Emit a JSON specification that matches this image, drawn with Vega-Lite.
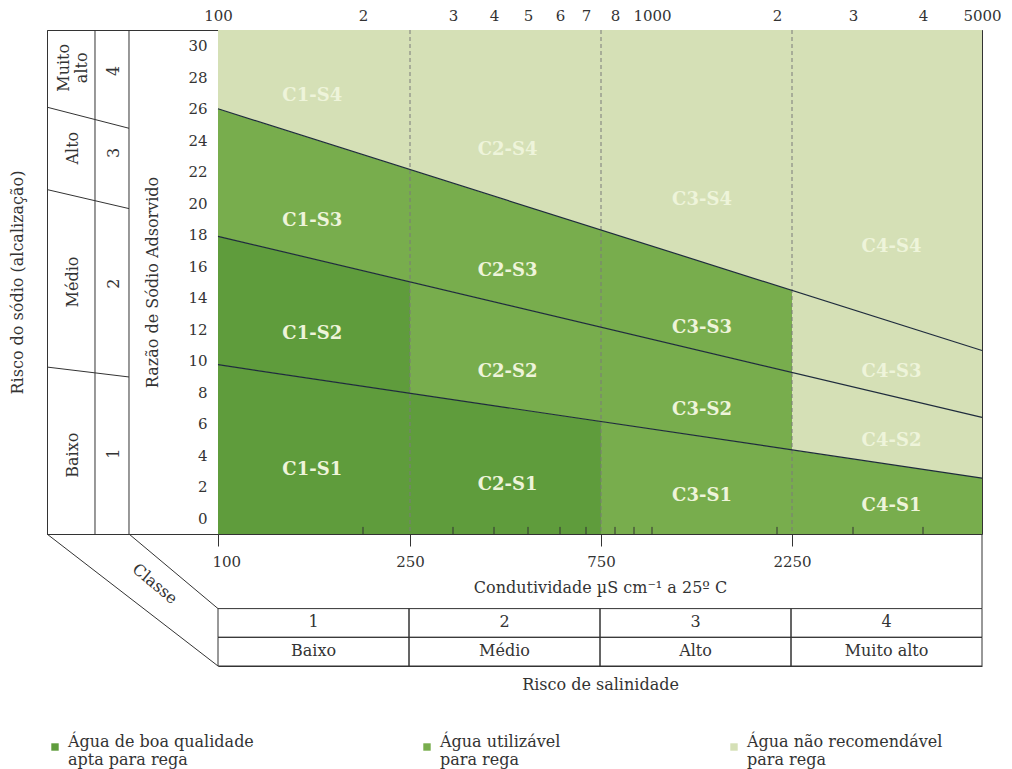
{
  "$schema": "https://vega.github.io/schema/vega-lite/v6.json",
  "background": "white",
  "padding": {"left": 8, "top": 7, "right": 5, "bottom": 5},
  "columns": 2,
  "spacing": 0,
  "bounds": "flush",
  "align": "each",
  "config": {
    "view": {"stroke": null},
    "font": "DejaVu Serif",
    "text": {"font": "DejaVu Serif"},
    "axis": {"labelFont": "DejaVu Serif", "titleFont": "DejaVu Serif", "labelFontSize": 15, "titleFontSize": 16, "titleFontWeight": "normal", "labelColor": "#333", "titleColor": "#333", "tickColor": "#333", "domainColor": "#333", "grid": false}
  },
  "datasets": {
    "regions": [
      {"region": "C1-S1", "q": "Água de boa qualidade apta para rega", "c": 100, "lo": -1, "hi": 9.75},
      {"region": "C1-S1", "q": "Água de boa qualidade apta para rega", "c": 250, "lo": -1, "hi": 7.94},
      {"region": "C1-S2", "q": "Água de boa qualidade apta para rega", "c": 100, "lo": 9.75, "hi": 17.9},
      {"region": "C1-S2", "q": "Água de boa qualidade apta para rega", "c": 250, "lo": 7.94, "hi": 15.01},
      {"region": "C1-S3", "q": "Água utilizável para rega", "c": 100, "lo": 17.9, "hi": 26},
      {"region": "C1-S3", "q": "Água utilizável para rega", "c": 250, "lo": 15.01, "hi": 22.14},
      {"region": "C1-S4", "q": "Água não recomendável para rega", "c": 100, "lo": 26, "hi": 31},
      {"region": "C1-S4", "q": "Água não recomendável para rega", "c": 250, "lo": 22.14, "hi": 31},
      {"region": "C2-S1", "q": "Água de boa qualidade apta para rega", "c": 250, "lo": -1, "hi": 7.94},
      {"region": "C2-S1", "q": "Água de boa qualidade apta para rega", "c": 750, "lo": -1, "hi": 6.14},
      {"region": "C2-S2", "q": "Água utilizável para rega", "c": 250, "lo": 7.94, "hi": 15.01},
      {"region": "C2-S2", "q": "Água utilizável para rega", "c": 750, "lo": 6.14, "hi": 12.13},
      {"region": "C2-S3", "q": "Água utilizável para rega", "c": 250, "lo": 15.01, "hi": 22.14},
      {"region": "C2-S3", "q": "Água utilizável para rega", "c": 750, "lo": 12.13, "hi": 18.31},
      {"region": "C2-S4", "q": "Água não recomendável para rega", "c": 250, "lo": 22.14, "hi": 31},
      {"region": "C2-S4", "q": "Água não recomendável para rega", "c": 750, "lo": 18.31, "hi": 31},
      {"region": "C3-S1", "q": "Água utilizável para rega", "c": 750, "lo": -1, "hi": 6.14},
      {"region": "C3-S1", "q": "Água utilizável para rega", "c": 2250, "lo": -1, "hi": 4.34},
      {"region": "C3-S2", "q": "Água utilizável para rega", "c": 750, "lo": 6.14, "hi": 12.13},
      {"region": "C3-S2", "q": "Água utilizável para rega", "c": 2250, "lo": 4.34, "hi": 9.26},
      {"region": "C3-S3", "q": "Água utilizável para rega", "c": 750, "lo": 12.13, "hi": 18.31},
      {"region": "C3-S3", "q": "Água utilizável para rega", "c": 2250, "lo": 9.26, "hi": 14.47},
      {"region": "C3-S4", "q": "Água não recomendável para rega", "c": 750, "lo": 18.31, "hi": 31},
      {"region": "C3-S4", "q": "Água não recomendável para rega", "c": 2250, "lo": 14.47, "hi": 31},
      {"region": "C4-S1", "q": "Água utilizável para rega", "c": 2250, "lo": -1, "hi": 4.34},
      {"region": "C4-S1", "q": "Água utilizável para rega", "c": 5000, "lo": -1, "hi": 2.55},
      {"region": "C4-S2", "q": "Água não recomendável para rega", "c": 2250, "lo": 4.34, "hi": 9.26},
      {"region": "C4-S2", "q": "Água não recomendável para rega", "c": 5000, "lo": 2.55, "hi": 6.4},
      {"region": "C4-S3", "q": "Água não recomendável para rega", "c": 2250, "lo": 9.26, "hi": 14.47},
      {"region": "C4-S3", "q": "Água não recomendável para rega", "c": 5000, "lo": 6.4, "hi": 10.65},
      {"region": "C4-S4", "q": "Água não recomendável para rega", "c": 2250, "lo": 14.47, "hi": 31},
      {"region": "C4-S4", "q": "Água não recomendável para rega", "c": 5000, "lo": 10.65, "hi": 31}
    ],
    "bounds": [
      {"line": "S1/S2", "c": 100, "sar": 9.75},
      {"line": "S1/S2", "c": 5000, "sar": 2.55},
      {"line": "S2/S3", "c": 100, "sar": 17.9},
      {"line": "S2/S3", "c": 5000, "sar": 6.4},
      {"line": "S3/S4", "c": 100, "sar": 26},
      {"line": "S3/S4", "c": 5000, "sar": 10.65}
    ],
    "dashes": [{"c": 250}, {"c": 750}, {"c": 2250}],
    "minor": [{"c": 200}, {"c": 300}, {"c": 400}, {"c": 500}, {"c": 600}, {"c": 700}, {"c": 800}, {"c": 900}, {"c": 1000}, {"c": 2000}, {"c": 3000}, {"c": 4000}],
    "labels": [
      {"label": "C1-S4", "c": 165, "sar": 26.8},
      {"label": "C2-S4", "c": 440, "sar": 23.4},
      {"label": "C3-S4", "c": 1400, "sar": 20.2},
      {"label": "C4-S4", "c": 3550, "sar": 17.2},
      {"label": "C1-S3", "c": 165, "sar": 18.9},
      {"label": "C2-S3", "c": 440, "sar": 15.7},
      {"label": "C3-S3", "c": 1400, "sar": 12.1},
      {"label": "C4-S3", "c": 3550, "sar": 9.3},
      {"label": "C1-S2", "c": 165, "sar": 11.7},
      {"label": "C2-S2", "c": 440, "sar": 9.3},
      {"label": "C3-S2", "c": 1400, "sar": 6.9},
      {"label": "C4-S2", "c": 3550, "sar": 4.9},
      {"label": "C1-S1", "c": 165, "sar": 3.05},
      {"label": "C2-S1", "c": 440, "sar": 2.1},
      {"label": "C3-S1", "c": 1400, "sar": 1.4},
      {"label": "C4-S1", "c": 3550, "sar": 0.8}
    ],
    "leftCols": [{"x": 0.2807}, {"x": 0.4795}],
    "leftSeps": [
      {"x0": 0, "s0": 9.6, "x1": 0.4795, "s1": 8.97},
      {"x0": 0, "s0": 20.87, "x1": 0.4795, "s1": 19.66},
      {"x0": 0, "s0": 26.1, "x1": 0.4795, "s1": 24.76}
    ],
    "leftText": [
      {"t": "Muito\nalto", "x": 0.1, "sar": 28.6},
      {"t": "4", "x": 0.39, "sar": 28.4},
      {"t": "Alto", "x": 0.15, "sar": 23.5},
      {"t": "3", "x": 0.39, "sar": 23.2},
      {"t": "Médio", "x": 0.15, "sar": 15.0},
      {"t": "2", "x": 0.39, "sar": 14.9},
      {"t": "Baixo", "x": 0.15, "sar": 4.0},
      {"t": "1", "x": 0.39, "sar": 4.1}
    ],
    "diag": [
      {"x0": 0, "y0": 4.6, "x1": 1, "y1": 0},
      {"x0": 0.4795, "y0": 4.6, "x1": 1, "y1": 2}
    ],
    "classe": [{"t": "Classe", "x": 0.63, "y": 2.86}],
    "cells": [
      {"cls": "1", "row": 1, "rowEnd": 2, "t": "1"},
      {"cls": "1", "row": 0, "rowEnd": 1, "t": "Baixo"},
      {"cls": "2", "row": 1, "rowEnd": 2, "t": "2"},
      {"cls": "2", "row": 0, "rowEnd": 1, "t": "Médio"},
      {"cls": "3", "row": 1, "rowEnd": 2, "t": "3"},
      {"cls": "3", "row": 0, "rowEnd": 1, "t": "Alto"},
      {"cls": "4", "row": 1, "rowEnd": 2, "t": "4"},
      {"cls": "4", "row": 0, "rowEnd": 1, "t": "Muito alto"}
    ],
    "edge": [{"cls": "4"}]
  },
  "concat": [
    {
      "width": 171,
      "height": 504,
      "view": {"stroke": "#333"},
      "layer": [
        {
          "data": {"name": "leftCols"},
          "mark": {"type": "rule", "color": "#333"},
          "encoding": {
            "x": {"field": "x", "type": "quantitative", "scale": {"domain": [0, 1], "nice": false, "zero": false}, "axis": null}
          }
        },
        {
          "data": {"name": "leftSeps"},
          "mark": {"type": "rule", "color": "#333"},
          "encoding": {
            "x": {"field": "x0", "type": "quantitative", "axis": null},
            "x2": {"field": "x1"},
            "y": {"field": "s0", "type": "quantitative", "scale": {"domain": [-1, 31], "nice": false, "zero": false},
              "axis": {"orient": "left", "labels": false, "ticks": false, "domain": true, "title": "Risco do sódio (alcalização)", "titlePadding": 22}},
            "y2": {"field": "s1"}
          }
        },
        {
          "data": {"name": "leftText"},
          "mark": {"type": "text", "angle": 270, "fontSize": 16, "lineBreak": "\n", "lineHeight": 18, "color": "#333"},
          "encoding": {
            "x": {"field": "x", "type": "quantitative", "axis": null},
            "y": {"field": "sar", "type": "quantitative"},
            "text": {"field": "t"}
          }
        }
      ]
    },
    {
      "width": 764,
      "height": 504,
      "view": {"stroke": "#333"},
      "layer": [
        {
          "data": {"name": "regions"},
          "mark": {"type": "area", "orient": "vertical"},
          "encoding": {
            "x": {"field": "c", "type": "quantitative",
              "scale": {"type": "linear", "domain": [100, 200, 250, 300, 400, 500, 600, 700, 750, 800, 900, 1000, 2000, 2250, 3000, 4000, 5000], "range": [0, 145, 192, 235, 276, 310, 342, 368, 383, 397, 416, 434, 559, 574, 635, 705, 764], "zero": false, "nice": false},
              "axis": {"orient": "top", "values": [100, 200, 300, 400, 500, 600, 700, 800, 900, 1000, 2000, 3000, 4000, 5000], "labelExpr": "datum.value == 100 || datum.value == 1000 || datum.value == 5000 ? toString(datum.value) : datum.value == 900 ? '' : toString(datum.value < 1000 ? datum.value / 100 : datum.value / 1000)", "tickSize": -7, "labelPadding": 14, "domain": false, "title": null, "labelFlush": false, "labelOverlap": false}},
            "y": {"field": "lo", "type": "quantitative", "stack": null,
              "scale": {"domain": [-1, 31], "nice": false, "zero": false},
              "axis": {"orient": "left", "values": [0, 2, 4, 6, 8, 10, 12, 14, 16, 18, 20, 22, 24, 26, 28, 30], "tickSize": -8, "labelPadding": 19, "domain": false, "title": "Razão de Sódio Adsorvido", "titlePadding": 27}},
            "y2": {"field": "hi"},
            "detail": {"field": "region"},
            "color": {"field": "q", "type": "nominal",
              "scale": {"domain": ["Água de boa qualidade apta para rega", "Água utilizável para rega", "Água não recomendável para rega"], "range": ["#5f9c3c", "#78ad4d", "#d5e0b6"]},
              "legend": {"title": null, "orient": "bottom", "direction": "horizontal", "columns": 3, "columnPadding": 165, "symbolType": "square", "symbolSize": 55, "symbolStrokeWidth": 0, "labelFont": "DejaVu Serif", "labelFontSize": 16, "labelColor": "#333", "labelLimit": 400, "labelBaseline": "alphabetic", "labelOffset": 5, "offset": 47,
                "labelExpr": "datum.label == 'Água de boa qualidade apta para rega' ? ['Água de boa qualidade', 'apta para rega'] : datum.label == 'Água utilizável para rega' ? ['Água utilizável', 'para rega'] : ['Água não recomendável', 'para rega']"}}
          }
        },
        {
          "data": {"name": "dashes"},
          "mark": {"type": "rule", "color": "#7a7a7a", "strokeDash": [4, 3], "strokeWidth": 1},
          "encoding": {
            "x": {"field": "c", "type": "quantitative",
              "axis": {"orient": "bottom", "values": [100, 250, 750, 2250], "format": "d", "tickSize": 12, "labelPadding": 8, "domain": false, "labelFlush": true, "labelFlushOffset": 6, "labelOverlap": false, "title": "Condutividade µS cm⁻¹ a 25º C", "titlePadding": 10}}
          }
        },
        {
          "data": {"name": "bounds"},
          "mark": {"type": "line", "color": "#1e2b3c", "strokeWidth": 1.2},
          "encoding": {
            "x": {"field": "c", "type": "quantitative", "axis": null},
            "y": {"field": "sar", "type": "quantitative",
              "axis": {"orient": "right", "values": [0, 2, 4, 6, 8, 10, 12, 14, 16, 18, 20, 22, 24, 26, 28, 30], "tickSize": -10, "labels": false, "domain": false, "title": null}},
            "detail": {"field": "line"}
          }
        },
        {
          "data": {"name": "minor"},
          "mark": {"type": "rule", "color": "#333", "strokeWidth": 1},
          "encoding": {
            "x": {"field": "c", "type": "quantitative", "axis": null},
            "y": {"datum": -1, "type": "quantitative", "axis": null},
            "y2": {"datum": -0.55}
          }
        },
        {
          "data": {"name": "labels"},
          "mark": {"type": "text", "font": "DejaVu Serif", "fontWeight": "bold", "fontSize": 18, "color": "#eef4da"},
          "encoding": {
            "x": {"field": "c", "type": "quantitative", "axis": null},
            "y": {"field": "sar", "type": "quantitative", "axis": null},
            "text": {"field": "label"}
          }
        }
      ]
    },
    {
      "width": 171,
      "height": 132,
      "layer": [
        {
          "data": {"name": "diag"},
          "mark": {"type": "rule", "color": "#333"},
          "encoding": {
            "x": {"field": "x0", "type": "quantitative", "scale": {"domain": [0, 1], "nice": false, "zero": false}, "axis": null},
            "x2": {"field": "x1"},
            "y": {"field": "y0", "type": "quantitative", "scale": {"domain": [0, 4.6], "nice": false, "zero": false}, "axis": null},
            "y2": {"field": "y1"}
          }
        },
        {
          "data": {"name": "classe"},
          "mark": {"type": "text", "angle": 40, "fontSize": 16, "color": "#333"},
          "encoding": {
            "x": {"field": "x", "type": "quantitative", "axis": null},
            "y": {"field": "y", "type": "quantitative", "axis": null},
            "text": {"field": "t"}
          }
        }
      ]
    },
    {
      "width": 764,
      "height": 132,
      "layer": [
        {
          "data": {"name": "cells"},
          "mark": {"type": "rect", "filled": false, "stroke": "#333", "strokeWidth": 1},
          "encoding": {
            "x": {"field": "cls", "type": "ordinal", "scale": {"paddingInner": 0, "paddingOuter": 0},
              "axis": {"orient": "bottom", "labels": false, "ticks": false, "domain": true, "title": "Risco de salinidade", "titlePadding": 10}},
            "y": {"field": "row", "type": "quantitative", "scale": {"domain": [0, 4.6], "nice": false, "zero": false}, "axis": null},
            "y2": {"field": "rowEnd"}
          }
        },
        {
          "data": {"name": "cells"},
          "mark": {"type": "text", "baseline": "bottom", "dy": -7, "fontSize": 16, "color": "#333"},
          "encoding": {
            "x": {"field": "cls", "type": "ordinal"},
            "y": {"field": "row", "type": "quantitative", "axis": null},
            "text": {"field": "t"}
          }
        },
        {
          "data": {"name": "edge"},
          "mark": {"type": "rule", "color": "#333"},
          "encoding": {
            "x": {"field": "cls", "type": "ordinal", "bandPosition": 1},
            "y": {"datum": 2, "type": "quantitative", "axis": null},
            "y2": {"datum": 4.6}
          }
        }
      ]
    }
  ]
}
